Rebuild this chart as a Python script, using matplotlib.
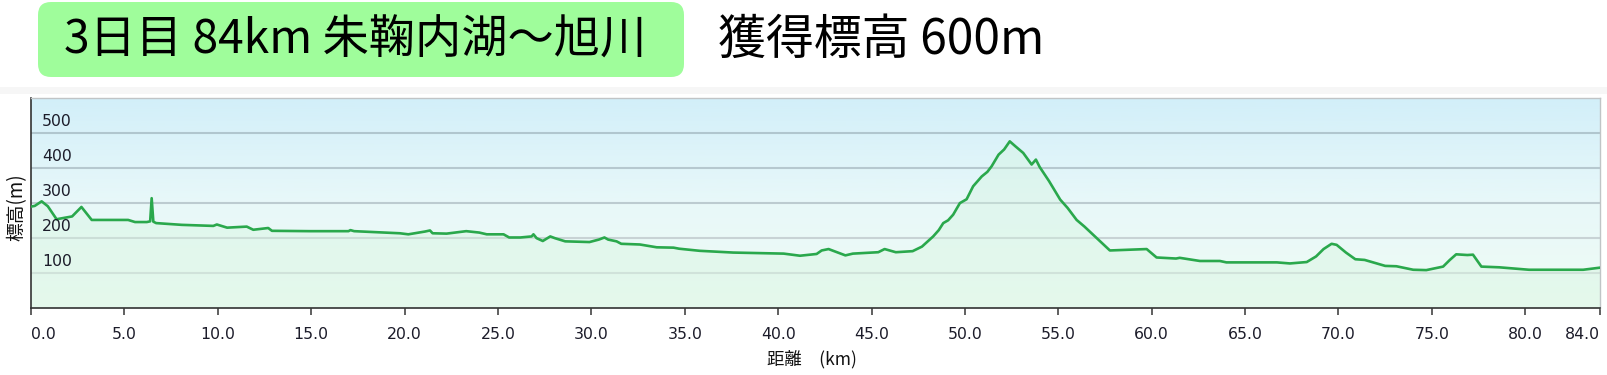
import numpy as np
import matplotlib
matplotlib.use("Agg")
import matplotlib.pyplot as plt
from matplotlib.patches import FancyBboxPatch, Rectangle
from matplotlib.transforms import IdentityTransform
from matplotlib.colors import LinearSegmentedColormap

# ---- data ----
km = [0.0, 0.2, 0.57, 0.9, 1.37, 2.2, 2.7, 3.0, 3.25, 5.2, 5.57, 6.2, 6.38, 6.46, 6.55, 6.7,
      8.07, 9.76, 9.95, 10.5, 11.55, 11.9, 12.7, 12.9, 14.94, 17.0, 17.1, 17.3, 19.75,
      20.2, 21.1, 21.36, 21.5, 22.25, 23.3, 24.0, 24.4, 25.3, 25.6, 26.2, 26.8, 26.9,
      27.07, 27.4, 27.8, 28.05, 28.6, 29.9, 30.4, 30.7, 30.9, 31.35, 31.6, 32.6, 33.5,
      34.4, 34.7, 35.8, 37.6, 39.4, 40.3, 41.17, 42.06, 42.33, 42.7, 43.6, 44.0, 45.36,
      45.7, 46.3, 47.2, 47.7, 48.3, 48.6, 48.84, 49.1, 49.37, 49.73, 50.09, 50.44, 50.9,
      51.2, 51.43, 51.8, 52.1, 52.4, 52.7, 53.12, 53.57, 53.8, 54.0, 54.5, 55.1, 55.5,
      55.98, 56.4, 56.78, 57.76, 59.73, 60.26, 61.3, 61.5, 62.58, 63.65, 64.0, 66.7,
      67.4, 68.3, 68.8, 69.2, 69.63, 69.9, 70.4, 70.9, 71.4, 71.86, 72.5, 73.1, 74.0,
      74.7, 75.6, 75.96, 76.3, 76.9, 77.2, 77.65, 78.6, 80.2, 83.1, 84.0]
elev = [289, 291, 304, 290, 253, 261, 288, 268, 251, 251, 245, 245, 247, 313, 246, 242,
        237, 234, 238, 229, 232, 223, 228, 220, 219, 219, 222, 219, 213,
        210, 218, 221, 213, 212, 219, 215, 210, 210, 201, 201, 204, 210,
        199, 191, 204, 199, 190, 188, 195, 201, 195, 190, 183, 181, 173,
        172, 169, 163, 158, 156, 155, 149, 154, 164, 168, 150, 155, 159,
        168, 159, 162, 175, 204, 222, 242, 250, 266, 299, 310, 347, 375,
        388, 404, 437, 452, 475, 461, 442, 409, 423, 402, 362, 309, 285,
        251, 232, 213, 164, 168, 144, 141, 143, 134, 134, 130, 130,
        127, 131, 147, 168, 183, 180, 158, 139, 137, 130, 120, 119, 109,
        108, 118, 137, 153, 151, 152, 118, 116, 109, 109, 115]
xticks = [0, 5, 10, 15, 20, 25, 30, 35, 40, 45, 50, 55, 60, 65, 70, 75, 80, 84]
xticklabels = ["0.0", "5.0", "10.0", "15.0", "20.0", "25.0", "30.0", "35.0", "40.0",
               "45.0", "50.0", "55.0", "60.0", "65.0", "70.0", "75.0", "80.0", "84.0"]
ygrid = [100, 200, 300, 400, 500]
title_text = "3日目 84km 朱鞠内湖～旭川"
gain_text = "獲得標高 600m"
xlabel = "距離　(km)"
ylabel = "標高(m)"

W, H = 1608, 375
fig = plt.figure(figsize=(W / 100, H / 100), dpi=100)
fig.patch.set_facecolor("white")

cjk = ["Noto Sans CJK JP", "DejaVu Sans"]

# header box
box = FancyBboxPatch((38, H - 77), 646, 75,
                     boxstyle="round,pad=0,rounding_size=13",
                     transform=IdentityTransform(), facecolor="#9ffd9b",
                     edgecolor="none")
fig.patches.append(box)
fig.text(64 / W, 1 - 40 / H, title_text, family=cjk, fontsize=33.3,
         va="center", ha="left", color="black")
fig.text(718 / W, 1 - 40 / H, gain_text, family=cjk, fontsize=34.5,
         va="center", ha="left", color="black")

# faint gray band
band = Rectangle((0, H - 94), W, 7, transform=IdentityTransform(),
                 facecolor="#f6f6f6", edgecolor="none")
fig.patches.append(band)

# axes
x0, x1 = 31, 1600
ytop, ybot = 97.5, 308
ax = fig.add_axes([x0 / W, (H - ybot) / H, (x1 - x0) / W, (ybot - ytop) / H])
ax.set_xlim(0, 84)
ax.set_ylim(0, 600)

cmap = LinearSegmentedColormap.from_list("bg", ["#effcf4", "#e8f8f9", "#d2eff9"])
grad = np.linspace(0, 1, 256).reshape(-1, 1)
ax.imshow(grad, cmap=cmap, origin="lower", aspect="auto",
          extent=[0, 84, 0, 600], zorder=0)

grid_colors = {100: "#cfd9d9", 200: "#c8d3d5", 300: "#bccbd0", 400: "#b6c8cf", 500: "#b0c6ce"}
for v in ygrid:
    ax.axhline(v, color=grid_colors[v], lw=1.5, zorder=1)
    ax.text(0.6, v + 33, str(v), fontsize=11.3, color="#1c1c2a", va="center",
            ha="left", zorder=5)

ax.fill_between(km, elev, 0, color="#d2f4dc", alpha=0.35, zorder=2, lw=0)
ax.plot(km, elev, color="#2aa84c", lw=1.9, zorder=3)

ax.set_xticks(xticks)
ax.set_xticklabels(xticklabels, fontsize=11.3, color="#1c1c2a")
labs = ax.get_xticklabels()
labs[0].set_horizontalalignment("left")
labs[-1].set_horizontalalignment("right")
ax.tick_params(axis="x", direction="out", length=5, width=1.2, color="#444", pad=9)
ax.set_yticks([])

for s in ["top", "right"]:
    ax.spines[s].set_color("#c0c4c6")
    ax.spines[s].set_linewidth(1)
for s in ["left", "bottom"]:
    ax.spines[s].set_color("#333333")
    ax.spines[s].set_linewidth(1.2)

fig.text(812 / W, 1 - 359 / H, xlabel, family=cjk, fontsize=12.5,
         ha="center", va="center", color="#111")
fig.text(17 / W, 1 - 207 / H, ylabel, family=cjk, fontsize=13.5,
         ha="center", va="center", rotation=90, color="#111")

fig.savefig("out.png", dpi=100)
